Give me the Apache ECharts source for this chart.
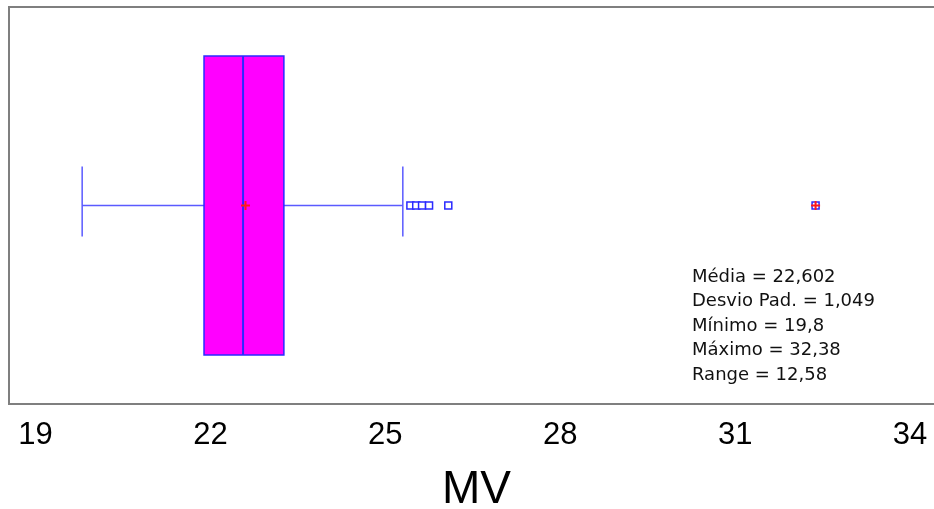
<!DOCTYPE html>
<html>
<head>
<meta charset="utf-8">
<script src="https://cdn.jsdelivr.net/npm/echarts@6/dist/echarts.min.js"></script>
<style>
  html, body { margin: 0; padding: 0; background: #ffffff; }
  #chart { width: 934px; height: 509px; }
</style>
</head>
<body>
<div id="chart"></div>
<script>
// Box-plot summary of MV
const variableName = 'MV';
// [lower whisker, Q1, median, Q3, upper whisker]
const boxStats = [19.8, 21.89, 22.56, 23.26, 25.30];
const meanValue = 22.602;
const outliers = [25.43, 25.53, 25.63, 25.75, 26.08, 32.38];
const extremes = [32.38];
const tickValues = [19, 22, 25, 28, 31, 34];
const statLines = [
  'Média = 22,602',
  'Desvio Pad. = 1,049',
  'Mínimo = 19,8',
  'Máximo = 32,38',
  'Range = 12,58'
];

const chart = echarts.init(document.getElementById('chart'), null, { renderer: 'canvas' });

const BLUE = '#2a2aff';
const WHISKER = '#5a5aff';

function renderBox(params, api) {
  const yc = api.coord([api.value(0), 0])[1];
  const xs = [0, 1, 2, 3, 4].map(i => api.coord([api.value(i), 0])[0]);
  const half = 149.5;
  const capUp = 39, capDown = 31;
  const lineStyle = { stroke: WHISKER, lineWidth: 1.5 };
  return {
    type: 'group',
    children: [
      { type: 'line', shape: { x1: xs[0], y1: yc, x2: xs[1], y2: yc }, style: lineStyle },
      { type: 'line', shape: { x1: xs[3], y1: yc, x2: xs[4], y2: yc }, style: lineStyle },
      { type: 'line', shape: { x1: xs[0], y1: yc - capUp, x2: xs[0], y2: yc + capDown }, style: lineStyle },
      { type: 'line', shape: { x1: xs[4], y1: yc - capUp, x2: xs[4], y2: yc + capDown }, style: lineStyle },
      { type: 'rect', shape: { x: xs[1], y: yc - half, width: xs[3] - xs[1], height: half * 2 },
        style: { fill: '#ff00ff', stroke: BLUE, lineWidth: 1.5 } },
      { type: 'line', shape: { x1: xs[2], y1: yc - half, x2: xs[2], y2: yc + half },
        style: { stroke: BLUE, lineWidth: 2 } }
    ]
  };
}

function renderCross(params, api) {
  const p = api.coord([api.value(0), api.value(1)]);
  const r = 4.5;
  const st = { stroke: '#ff1a1a', lineWidth: 2 };
  return {
    type: 'group',
    children: [
      { type: 'line', shape: { x1: p[0] - r, y1: p[1], x2: p[0] + r, y2: p[1] }, style: st },
      { type: 'line', shape: { x1: p[0], y1: p[1] - r, x2: p[0], y2: p[1] + r }, style: st }
    ]
  };
}

chart.setOption({
  animation: false,
  backgroundColor: '#ffffff',
  grid: {
    left: 9, top: 7, width: 935, height: 397,
    containLabel: false,
    outerBoundsMode: 'none',
    show: true, borderColor: '#7f7f7f', borderWidth: 2, backgroundColor: 'transparent'
  },
  xAxis: {
    type: 'value',
    min: 18.545,
    max: 18.545 + 935 / 58.3,
    name: variableName,
    nameLocation: 'middle',
    nameGap: 63,
    nameTextStyle: { fontFamily: 'Liberation Sans', fontSize: 46, color: '#000000' },
    axisLine: { show: false },
    axisTick: { show: false },
    splitLine: { show: false },
    axisLabel: {
      customValues: tickValues,
      fontFamily: 'Liberation Sans',
      fontSize: 31,
      color: '#000000',
      margin: 16
    }
  },
  yAxis: {
    type: 'value', min: -1, max: 1, show: false
  },
  series: [
    {
      type: 'custom',
      renderItem: renderBox,
      data: [boxStats],
      encode: { x: [0, 1, 2, 3, 4] },
      silent: true,
      z: 2
    },
    {
      type: 'scatter',
      symbol: 'rect',
      symbolSize: 7,
      data: outliers.map(v => [v, 0]),
      itemStyle: { color: '#ffffff', borderColor: BLUE, borderWidth: 1.5, opacity: 1 },
      silent: true,
      z: 3
    },
    {
      type: 'custom',
      renderItem: renderCross,
      data: [[meanValue, 0]].concat(extremes.map(v => [v, 0])),
      encode: { x: 0, y: 1 },
      silent: true,
      z: 4
    }
  ],
  graphic: [
    {
      type: 'text',
      left: 692,
      top: 265,
      style: {
        text: statLines.join('\n'),
        font: '18px "DejaVu Sans"',
        lineHeight: 24.5,
        fill: '#111111'
      }
    }
  ]
});
</script>
</body>
</html>
